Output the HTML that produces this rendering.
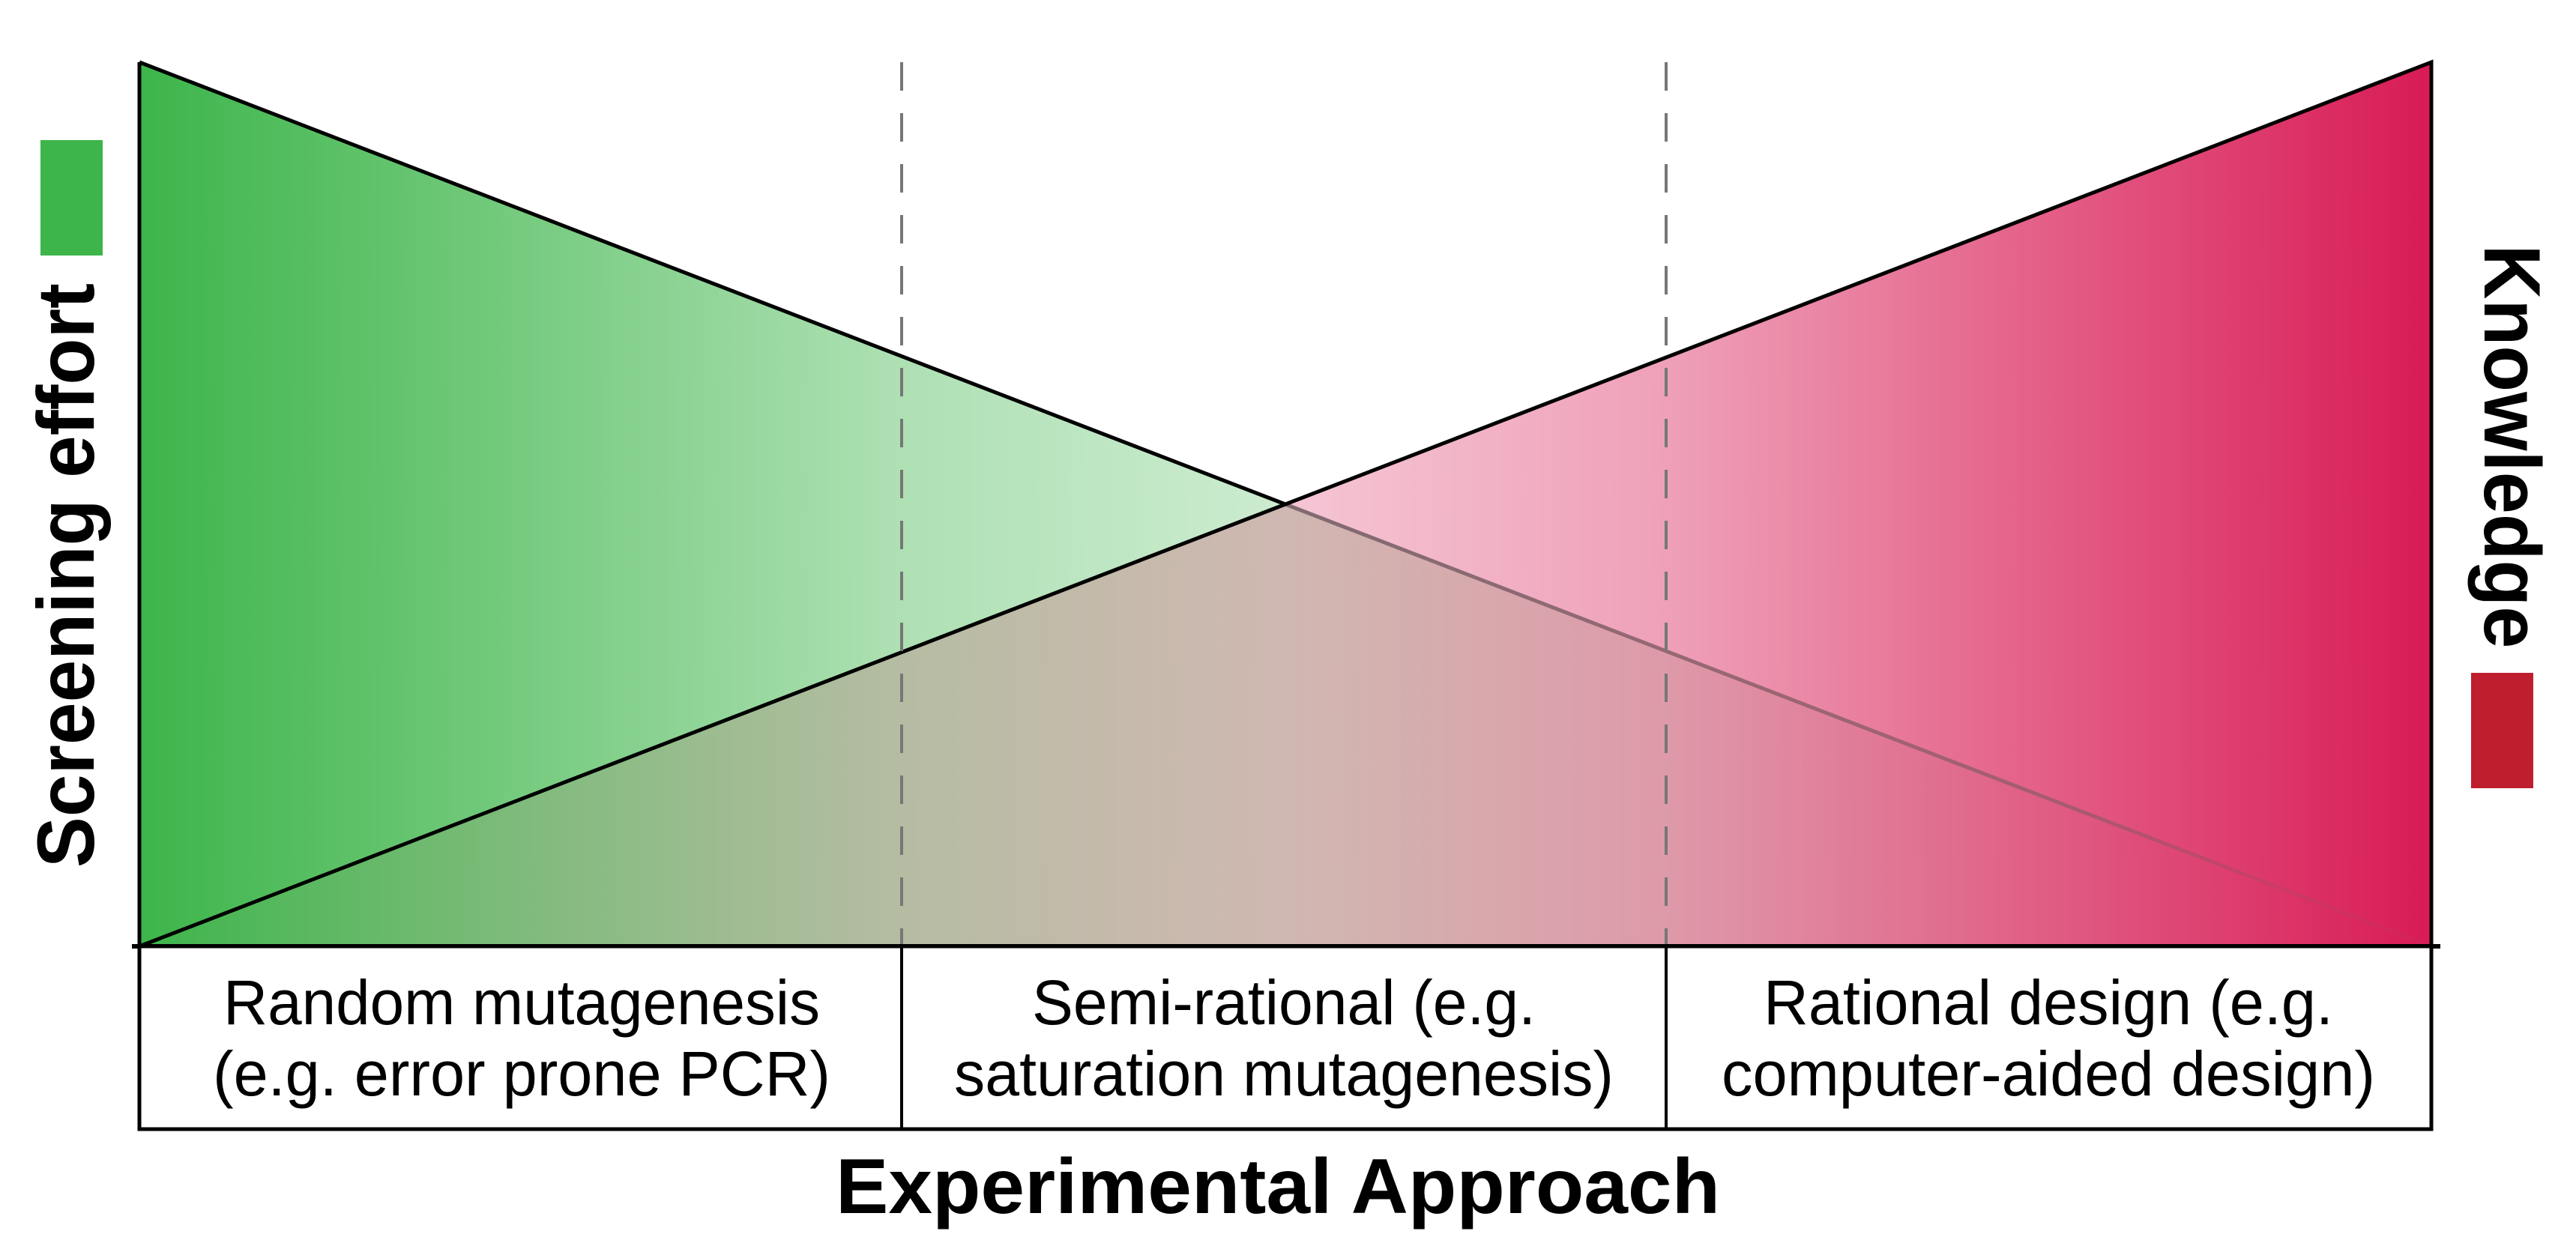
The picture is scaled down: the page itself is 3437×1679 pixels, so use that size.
<!DOCTYPE html>
<html><head><meta charset="utf-8"><style>html,body{margin:0;padding:0;background:#fff}svg{display:block}</style></head>
<body>
<svg width="3437" height="1679" viewBox="0 0 3437 1679" xmlns="http://www.w3.org/2000/svg">
<defs>
<linearGradient id="g" gradientUnits="userSpaceOnUse" x1="186" y1="0" x2="3244" y2="0">
<stop offset="0" stop-color="#3db54a" stop-opacity="1"/>
<stop offset="0.33" stop-color="#3db54a" stop-opacity="0.42"/>
<stop offset="0.5" stop-color="#3db54a" stop-opacity="0.26"/>
<stop offset="0.75" stop-color="#3db54a" stop-opacity="0.1"/>
<stop offset="1" stop-color="#3db54a" stop-opacity="0"/>
</linearGradient>
<linearGradient id="r" gradientUnits="userSpaceOnUse" x1="186" y1="0" x2="3244" y2="0">
<stop offset="0" stop-color="#d81b55" stop-opacity="0"/>
<stop offset="0.33" stop-color="#d81b55" stop-opacity="0.18"/>
<stop offset="0.5" stop-color="#d81b55" stop-opacity="0.25"/>
<stop offset="0.67" stop-color="#d81b55" stop-opacity="0.42"/>
<stop offset="1" stop-color="#d81b55" stop-opacity="1"/>
</linearGradient>
<linearGradient id="ln" gradientUnits="userSpaceOnUse" x1="1715" y1="0" x2="3244" y2="0">
<stop offset="0" stop-color="#806a70" stop-opacity="1"/>
<stop offset="0.7" stop-color="#9a5a6a" stop-opacity="0.8"/>
<stop offset="1" stop-color="#c8305a" stop-opacity="0.2"/>
</linearGradient>
</defs>
<polygon points="186,83 186,1263 3244,1263" fill="url(#g)"/>
<polygon points="186,1263 3244,83 3244,1263" fill="url(#r)"/>
<line x1="186" y1="83" x2="1715" y2="673" stroke="#000" stroke-width="5"/>
<line x1="1715" y1="673" x2="3244" y2="1263" stroke="url(#ln)" stroke-width="5"/>
<line x1="186" y1="83" x2="186" y2="1263" stroke="#000" stroke-width="5"/>
<polyline points="186,1263 3244,83 3244,1263" fill="none" stroke="#000" stroke-width="5"/>
<line x1="1203" y1="83" x2="1203" y2="1263" stroke="#777" stroke-width="4" stroke-dasharray="38,30"/>
<line x1="2223" y1="83" x2="2223" y2="1263" stroke="#777" stroke-width="4" stroke-dasharray="38,30"/>
<line x1="176" y1="1263" x2="3256" y2="1263" stroke="#000" stroke-width="6"/>
<rect x="186" y="1263" width="3058" height="244" fill="#fff" stroke="#000" stroke-width="5"/>
<line x1="1203" y1="1263" x2="1203" y2="1507" stroke="#000" stroke-width="4"/>
<line x1="2223" y1="1263" x2="2223" y2="1507" stroke="#000" stroke-width="4"/>
<g font-family="Liberation Sans, sans-serif" font-size="84" fill="#000" text-anchor="middle">
<text x="696" y="1367" textLength="796" lengthAdjust="spacingAndGlyphs">Random mutagenesis</text>
<text x="696" y="1462" textLength="824" lengthAdjust="spacingAndGlyphs">(e.g. error prone PCR)</text>
<text x="1713" y="1367" textLength="672" lengthAdjust="spacingAndGlyphs">Semi-rational (e.g.</text>
<text x="1713" y="1462" textLength="880" lengthAdjust="spacingAndGlyphs">saturation mutagenesis)</text>
<text x="2733" y="1367" textLength="760" lengthAdjust="spacingAndGlyphs">Rational design (e.g.</text>
<text x="2733" y="1462" textLength="872" lengthAdjust="spacingAndGlyphs">computer-aided design)</text>
</g>
<text x="1705" y="1619" font-family="Liberation Sans, sans-serif" font-weight="bold" font-size="104" text-anchor="middle" textLength="1180" lengthAdjust="spacingAndGlyphs">Experimental Approach</text>
<rect x="54" y="187" width="83" height="154" fill="#3db54a"/>
<rect x="3297" y="898" width="83" height="154" fill="#be1e2d"/>
<text transform="translate(125,768) rotate(-90)" font-family="Liberation Sans, sans-serif" font-weight="bold" font-size="108" text-anchor="middle" textLength="780" lengthAdjust="spacingAndGlyphs">Screening effort</text>
<text transform="translate(3315,596) rotate(90)" font-family="Liberation Sans, sans-serif" font-weight="bold" font-size="107" text-anchor="middle" textLength="539" lengthAdjust="spacingAndGlyphs">Knowledge</text>
</svg>
</body></html>
